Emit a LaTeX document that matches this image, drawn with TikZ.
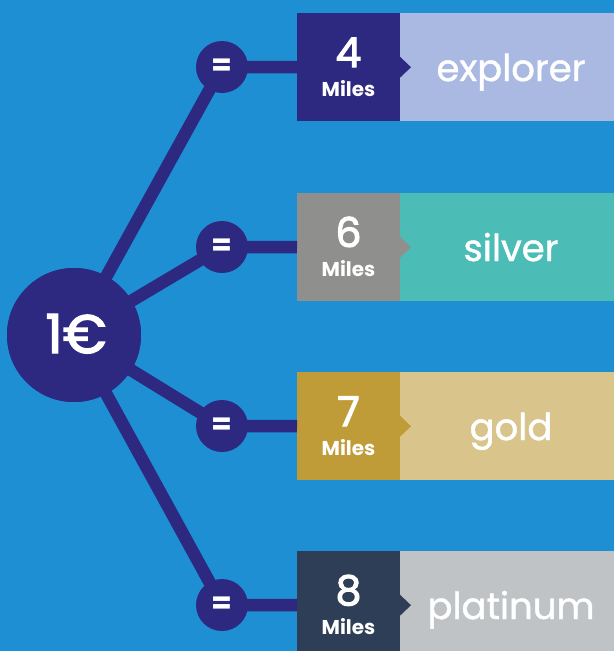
\documentclass[tikz,border=0pt]{standalone}
\usepackage{fontspec}
\setmainfont{Poppins}
\newfontfamily\popmed[FakeBold=1.2]{Poppins}
\newfontfamily\popsemi[FakeBold=2.6]{Poppins}
\definecolor{bg}{HTML}{1E8FD3}
\definecolor{ink}{HTML}{2E2980}
\definecolor{explN}{HTML}{2E2980}
\definecolor{explL}{HTML}{A9B9E1}
\definecolor{silvN}{HTML}{8F8F8E}
\definecolor{silvL}{HTML}{4CBDB6}
\definecolor{goldN}{HTML}{BF9C37}
\definecolor{goldL}{HTML}{D9C58B}
\definecolor{platN}{HTML}{2D3E56}
\definecolor{platL}{HTML}{C0C3C6}
\begin{document}
\begin{tikzpicture}[x=1pt,y=-1pt,
  hub/.style={circle,fill=ink,minimum size=134pt,inner sep=0pt},
  eqc/.style={circle,fill=ink,minimum size=52pt,inner sep=0pt,text=white,font=\bfseries\fontsize{30}{30}\selectfont},
  link/.style={draw=ink,line width=12.5pt},
  numbox/.style={minimum width=103pt,minimum height=108pt,inner sep=0pt,anchor=north west},
  labbox/.style={minimum width=214pt,minimum height=108pt,inner sep=0pt,anchor=north west},
  digit/.style={text=white,font=\popsemi\fontsize{41}{41}\selectfont,anchor=base},
  miles/.style={text=white,font=\bfseries\fontsize{20}{20}\selectfont,anchor=base},
  lab/.style={text=white,font=\popmed\fontsize{37}{37}\selectfont,anchor=base}]
\useasboundingbox (0,0) rectangle (614,651);
\fill[bg] (0,0) rectangle (614,651);
% rows
\foreach \name/\y/\n/\t/\cn/\cl in {a/67/4/explorer/explN/explL, b/247/6/silver/silvN/silvL, c/426/7/gold/goldN/goldL, d/605/8/platinum/platN/platL}{
  \node[numbox,fill=\cn] (n\name) at (297,\y-54) {};
  \node[labbox,fill=\cl] (l\name) at (400,\y-54) {};
  \fill[\cn] (l\name.west) ++(0,-10.5) -- ++(11,10.5) -- ++(-11,10.5) -- cycle;
  \node[digit] (dg\name) at (348.5,\y) {\n};
  \node[miles] (ml\name) at (348.5,\y+29) {Miles};
  \node[lab] (tx\name) at (511,\y+14) {\t};
  \coordinate (e\name) at (222,\y);
}
\node[hub] (hub) at (74,335) {};
\foreach \name in {a,b,c,d}{
  \draw[link] (hub.center) -- (e\name);
  \draw[link] (e\name) -- (n\name.west);
}
\node[hub] (hub2) at (74,335) {};
\node[text=white,font=\popsemi\fontsize{54}{54}\selectfont,anchor=base] (one) at (76,353) {1€};
\foreach \name in {a,b,c,d}{
  \node[eqc] (q\name) at (e\name) {=};
}
\end{tikzpicture}
\end{document}
